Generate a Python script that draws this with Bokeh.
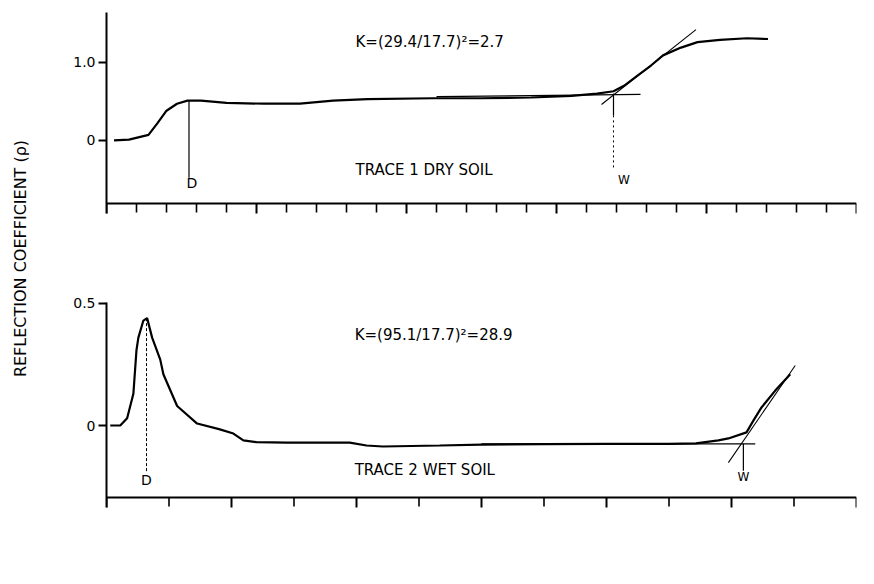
from bokeh.plotting import figure
from bokeh.layouts import row, column
from bokeh.models import Range1d, FixedTicker, Label
from bokeh.core.properties import value
from bokeh.embed import file_html
from bokeh.resources import INLINE

FONT = "DejaVu Sans"

# ---------------- data ----------------
# Trace 1 (dry soil)
t1_x = [0.5, 1.5, 2.8, 3.4, 4.0, 4.7, 5.4, 6.3, 8.0, 10.5, 12.9, 15.1, 17.4, 21.8, 25.0, 28.3,
        31.0, 32.7, 33.8, 34.5, 35.4, 36.3, 37.1, 38.3, 39.4, 40.9, 42.7, 44.1]
t1_y = [0.0, 0.01, 0.07, 0.22, 0.38, 0.47, 0.51, 0.51, 0.48, 0.47, 0.47, 0.51, 0.53, 0.54, 0.54, 0.55,
        0.57, 0.60, 0.63, 0.70, 0.83, 0.96, 1.09, 1.19, 1.26, 1.29, 1.31, 1.30]
t1_base_x = [22.0, 35.6]
t1_base_y = [0.56, 0.59]
t1_tan_x = [33.0, 39.3]
t1_tan_y = [0.46, 1.42]
t1_D = 5.5
t1_W = 33.8

# Trace 2 (wet soil)
t2_x = [0.6, 2.2, 3.3, 4.3, 4.8, 5.1, 5.9, 6.5, 7.3, 8.6, 9.1, 11.3, 14.5, 18.0, 20.3, 21.9, 24.0,
        28.8, 38.9, 41.6, 44.2, 53.3, 60.0, 70.0, 80.0, 90.0, 94.3, 97.9, 99.5, 102.4, 103.5, 104.8,
        107.0, 109.4]
t2_y = [0.0, 0.0, 0.03, 0.13, 0.31, 0.36, 0.43, 0.44, 0.36, 0.27, 0.21, 0.08, 0.008, -0.015, -0.033,
        -0.061, -0.068, -0.07, -0.07, -0.082, -0.086, -0.082, -0.078, -0.076, -0.075, -0.075, -0.073,
        -0.061, -0.053, -0.028, 0.02, 0.074, 0.143, 0.21]
t2_base_x = [60.0, 103.8]
t2_base_y = [-0.075, -0.075]
t2_tan_x = [99.5, 110.2]
t2_tan_y = [-0.152, 0.246]
t2_D = 6.4
t2_W = 101.9

# axis extents and ticks
top_y_axis_min, top_y_max = -0.81, 1.64
bot_y_axis_min, bot_y_max = -0.295, 0.504
top_x_major = [0, 10, 20, 30, 40, 50]
top_x_minor = [2, 4, 6, 8, 12, 14, 16, 18, 22, 24, 26, 28, 32, 34, 36, 38, 42, 44, 46, 48]
bot_x_major = [0, 20, 40, 60, 80, 100, 120]
bot_x_minor = [10, 30, 50, 70, 90, 110]
top_y_ticks = [0, 1]
top_y_labels = {0: "0", 1: "1.0"}
bot_y_ticks = [0, 0.5]
bot_y_labels = {0: "0", 0.5: "0.5"}

# texts
top_k_text = "K=(29.4/17.7)\u00b2=2.7"
top_trace_text = "TRACE 1 DRY SOIL"
bot_k_text = "K=(95.1/17.7)\u00b2=28.9"
bot_trace_text = "TRACE 2 WET SOIL"
y_label = "REFLECTION COEFFICIENT (\u03c1)"
x_label = "LENGTH OF TRACE (cm)"

EXTRA_PX = 10      # frame room below the x axis line for minor tick marks
MINOR_PX = 9       # minor tick length in pixels


def style(p):
    p.outline_line_color = None
    p.grid.visible = False
    p.background_fill_color = "white"
    p.border_fill_color = "white"
    for ax in p.axis:
        ax.axis_line_width = 2
        ax.axis_line_color = "black"
        ax.major_tick_line_color = "black"
        ax.major_tick_line_width = 2
        ax.major_label_text_font = FONT
        ax.major_label_text_font_size = "14px"
        ax.major_label_text_font_style = "normal"
        ax.major_label_text_color = "black"
        ax.major_tick_in = 0


def make_panel(height, top_border, bottom_border, x_end, y_axis_min, y_max, major, minor):
    frame_h = height - top_border - bottom_border
    per_px = (y_max - y_axis_min) / (frame_h - EXTRA_PX)
    y_start = y_axis_min - EXTRA_PX * per_px
    p = figure(width=834, height=height, output_backend="svg", toolbar_location=None,
               x_range=Range1d(0, x_end), y_range=Range1d(y_start, y_max),
               min_border_left=66, min_border_right=834 - 66 - 750 if x_end == 50 else 16,
               min_border_top=top_border, min_border_bottom=bottom_border)
    style(p)
    p.xaxis.fixed_location = y_axis_min
    p.xaxis.ticker = FixedTicker(ticks=major, minor_ticks=[])
    p.xaxis.major_tick_out = 13
    p.xaxis.major_label_standoff = 7
    p.segment(x0=minor, y0=[y_axis_min] * len(minor), x1=minor,
              y1=[y_axis_min - MINOR_PX * per_px] * len(minor),
              line_color="black", line_width=1.6)
    return p


def txt(p, x, y, s, size="15px", align="left"):
    p.text(x=[x], y=[y], text=[s], text_font=value(FONT), text_font_size=size,
           text_align=align, text_baseline="middle", text_color="black")


# ---------------- top panel ----------------
top = make_panel(250, 12, 37, 50, top_y_axis_min, top_y_max, top_x_major, top_x_minor)
top.yaxis.ticker = FixedTicker(ticks=top_y_ticks, minor_ticks=[])
top.yaxis.major_label_overrides = top_y_labels
top.yaxis.major_tick_out = 8
top.yaxis.major_label_standoff = 3

top.line(t1_x, t1_y, line_color="black", line_width=2.2)
top.line(t1_base_x, t1_base_y, line_color="black", line_width=1.3)
top.line(t1_tan_x, t1_tan_y, line_color="black", line_width=1.1)
top.segment(x0=[t1_D], y0=[0.51], x1=[t1_D], y1=[-0.48], line_color="black", line_width=1.2)
top.segment(x0=[t1_W], y0=[0.60], x1=[t1_W], y1=[0.32], line_color="black", line_width=1.2)
top.segment(x0=[t1_W], y0=[0.32], x1=[t1_W], y1=[-0.385], line_color="black", line_width=1,
            line_dash="2 3")
txt(top, t1_D + 0.2, -0.55, "D", "14px", "center")
txt(top, t1_W + 0.7, -0.51, "W", "12px", "center")
txt(top, 16.6, 1.26, top_k_text)
txt(top, 16.6, -0.385, top_trace_text)

# ---------------- bottom panel ----------------
bot = make_panel(334, 52, 77, 120, bot_y_axis_min, bot_y_max, bot_x_major, bot_x_minor)
bot.xaxis.axis_label = x_label
bot.xaxis.axis_label_text_font = FONT
bot.xaxis.axis_label_text_font_size = "16px"
bot.xaxis.axis_label_text_font_style = "normal"
bot.xaxis.axis_label_text_color = "black"
bot.xaxis.axis_label_standoff = 26
bot.yaxis.ticker = FixedTicker(ticks=bot_y_ticks, minor_ticks=[])
bot.yaxis.major_label_overrides = bot_y_labels
bot.yaxis.major_tick_out = 8
bot.yaxis.major_label_standoff = 3

bot.line(t2_x, t2_y, line_color="black", line_width=2.2)
bot.line(t2_base_x, t2_base_y, line_color="black", line_width=1.3)
bot.line(t2_tan_x, t2_tan_y, line_color="black", line_width=1.1)
bot.segment(x0=[t2_D], y0=[0.44], x1=[t2_D], y1=[-0.19], line_color="black", line_width=1,
            line_dash="3 2")
bot.segment(x0=[t2_W], y0=[-0.075], x1=[t2_W], y1=[-0.185], line_color="black", line_width=1.2)
txt(bot, t2_D, -0.225, "D", "14px", "center")
txt(bot, t2_W, -0.213, "W", "12px", "center")
txt(bot, 39.7, 0.369, bot_k_text)
txt(bot, 39.7, -0.184, bot_trace_text)

# ---------------- shared y label ----------------
lab = figure(width=40, height=584, output_backend="svg", toolbar_location=None,
             x_range=Range1d(0, 40), y_range=Range1d(0, 584),
             min_border=0, min_border_left=0, min_border_right=0, min_border_top=0,
             min_border_bottom=0)
lab.axis.visible = False
lab.grid.visible = False
lab.outline_line_color = None
lab.add_layout(Label(x=20, y=584 - 258, text=y_label, angle=90, angle_units="deg",
                     text_font=FONT, text_font_size="16px", text_align="center",
                     text_baseline="middle", text_color="black"))

layout = row(lab, column(top, bot))
open("out.html", "w").write(file_html(layout, INLINE))
